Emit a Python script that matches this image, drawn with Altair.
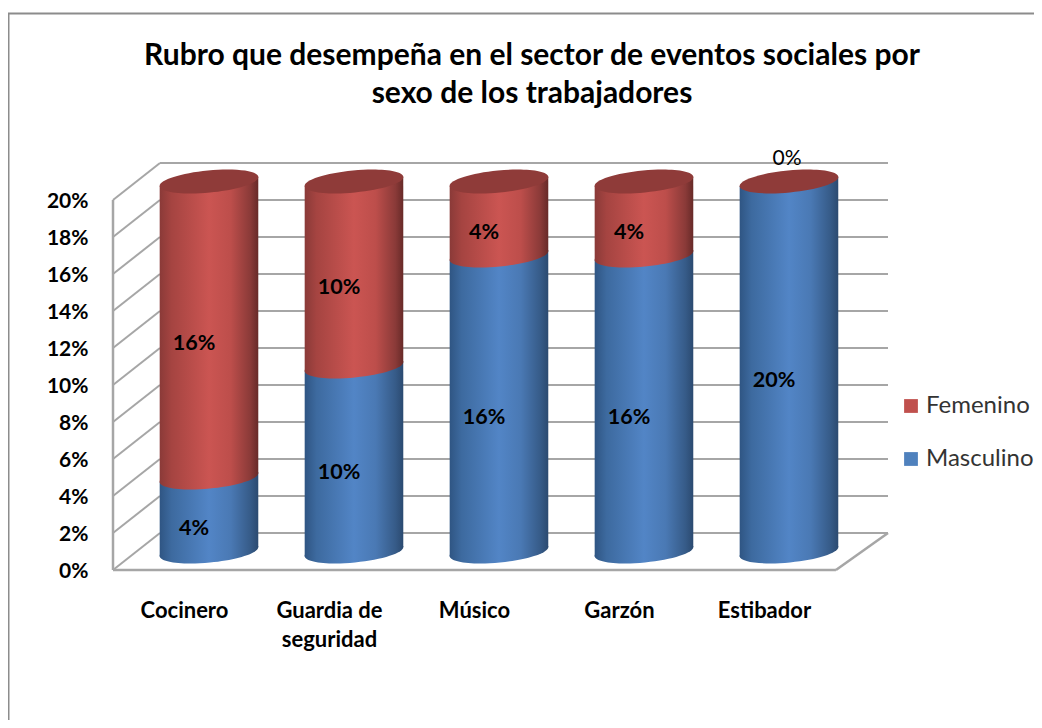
import math
import altair as alt
import pandas as pd

categories = ["Cocinero", "Guardia de\nseguridad", "Músico", "Garzón", "Estibador"]
masculino = [4, 10, 16, 16, 20]
femenino = [16, 10, 4, 4, 0]
ticks = [0, 2, 4, 6, 8, 10, 12, 14, 16, 18, 20]
series = ["Femenino", "Masculino"]
swatches = ["#c0504d", "#4f81bd"]

FONT = "Lato"
HALF = 0.34      # half bar width in category units
TILT = 0.25      # end-to-end tilt of the cylinder rims, in % units
LIFT = 1         # bars stand half-way into the floor depth
DEPTH = 2        # floor depth expressed in % units
X0, X1 = -0.662, 4.683
BACK_L, FRONT_R = -0.338, 4.324


def ellipse_path(b=0.222, deg=-5.4):
    t = math.radians(deg)
    k = 0.5523
    def p(x, y):
        return f"{x*math.cos(t)-y*math.sin(t):.4f},{x*math.sin(t)+y*math.cos(t):.4f}"
    return (f"M{p(-1,0)} C{p(-1,-k*b)} {p(-k,-b)} {p(0,-b)} "
            f"C{p(k,-b)} {p(1,-k*b)} {p(1,0)} "
            f"C{p(1,k*b)} {p(k,b)} {p(0,b)} "
            f"C{p(-k,b)} {p(-1,k*b)} {p(-1,0)} Z")


SHAPE = ellipse_path()
SIZE = (2 * 49.6) ** 2


def gradient(stops):
    return alt.Gradient(
        gradient="linear", x1=0, x2=1, y1=0, y2=0,
        stops=[alt.GradientStop(offset=o, color=c) for o, c in stops],
    )


BLUE = gradient([(0, "#2f5583"), (0.12, "#3d6a9f"), (0.5, "#5285c6"), (0.72, "#4a79b4"), (0.92, "#365b88"), (1, "#2b4a70")])
RED = gradient([(0, "#8a3a38"), (0.12, "#a54441"), (0.5, "#cb5552"), (0.72, "#bd4e4b"), (0.92, "#8a3a38"), (1, "#672a28")])

rows = []
for i in range(len(categories)):
    rows.append(dict(i=i, m=masculino[i], f=femenino[i], total=masculino[i] + femenino[i]))
bars = pd.DataFrame(rows)


def body(lo, hi):
    out = []
    for i in range(len(categories)):
        if hi[i] <= lo[i]:
            continue
        for side in (-1, 1):
            out.append(dict(i=i, x=i + side * HALF,
                            y0=lo[i] + LIFT + side * TILT,
                            y1=hi[i] + LIFT + side * TILT))
    return pd.DataFrame(out)


label_expr = "[" + ",".join(
    "[" + ",".join(f"'{p}'" for p in c.split("\n")) + "]" for c in categories
) + "][datum.value]"

XAX = alt.Axis(
    values=list(range(5)), domain=False, ticks=False, grid=False, title=None,
    labelExpr=label_expr, labelFont=FONT, labelFontSize=22, labelFontWeight="bold",
    labelColor="#000000", labelPadding=30, labelOffset=-25, labelLineHeight=29,
    labelBaseline="top", labelFlush=False, labelOverlap=False, labelAngle=0, labelAlign="center")
YAX = alt.Axis(
    values=ticks, domain=False, ticks=False, grid=False, title=None,
    labelExpr="datum.value + '%'", labelFont=FONT, labelFontSize=21, labelFontWeight="bold",
    labelColor="#000000", labelPadding=25, labelOffset=1.5, labelOverlap=False, labelFlush=False)

xs = alt.Scale(domain=[X0, X1], nice=False, zero=False)
ys = alt.Scale(domain=[0, 22], nice=False, zero=False)


def PX(field):
    return alt.X(field, scale=xs, axis=XAX)


def PY(field):
    return alt.Y(field, scale=ys, axis=YAX)


GRID = "#a6a6a6"
grid_df = pd.DataFrame({"t": ticks})
grid_df["b"] = grid_df.t + DEPTH
back = alt.Chart(grid_df).transform_calculate(xa=str(BACK_L), xb=str(X1)).mark_rule(
    color=GRID, strokeWidth=2).encode(x=PX("xa:Q"), x2="xb:Q", y=PY("b:Q"))
wall = alt.Chart(grid_df).transform_calculate(xa=str(X0), xb=str(BACK_L)).mark_rule(
    color=GRID, strokeWidth=2).encode(x=PX("xa:Q"), x2="xb:Q", y=PY("t:Q"), y2="b:Q")
edges = alt.Chart(pd.DataFrame({
    "x": [X0, X0, FRONT_R], "x2": [X0, FRONT_R, X1],
    "y": [0, 0, 0], "y2": [20, 0, DEPTH]})).mark_rule(color=GRID, strokeWidth=2.5).encode(
    x=PX("x:Q"), x2="x2:Q", y=PY("y:Q"), y2="y2:Q")


def rim(column, fill):
    return alt.Chart(bars).transform_calculate(yy=f"datum.{column} + {LIFT}").mark_point(
        shape=SHAPE, size=SIZE, filled=True, fill=fill, opacity=1, strokeWidth=0).encode(
        x=PX("i:Q"), y=PY("yy:Q"))


def side(df, fill):
    return alt.Chart(df).mark_area(fill=fill, opacity=1, interpolate="linear").encode(
        x=PX("x:Q"), y=PY("y0:Q"), y2="y1:Q", detail="i:N")


zero_base = bars.assign(b=0)
blue_bottom = alt.Chart(zero_base).transform_calculate(yy=f"datum.b + {LIFT}").mark_point(
    shape=SHAPE, size=SIZE, filled=True, fill=BLUE, opacity=1, strokeWidth=0).encode(
    x=PX("i:Q"), y=PY("yy:Q"))
blue_body = side(body([0] * 5, masculino), BLUE)
red_bottom = rim("m", RED).transform_filter("datum.f > 0")
red_body = side(body(masculino, [m + f for m, f in zip(masculino, femenino)]), RED)
top = rim("total", "#8f3b39")

# legend carrier, hidden behind the cylinders
legend_df = pd.DataFrame({"serie": series, "x": [0, 0], "y": [5, 5]})
legend_layer = alt.Chart(legend_df).mark_point(filled=True, size=4, shape="square", opacity=1).encode(
    x=PX("x:Q"), y=PY("y:Q"),
    color=alt.Color("serie:N", scale=alt.Scale(domain=series, range=swatches), title=None,
                    legend=alt.Legend(orient="none", legendX=786, legendY=231, symbolType="square",
                                      symbolSize=190, symbolStrokeWidth=1, labelFont=FONT,
                                      labelFontSize=24, labelColor="#333333", rowPadding=29,
                                      labelOffset=3, title=None, padding=0)))

lab = []
for i in range(5):
    base = 0
    for v in (masculino[i], femenino[i]):
        if v > 0:
            lab.append(dict(i=i, y=base + v / 2 + LIFT, t=f"{v}%"))
        base += v
lab_df = pd.DataFrame(lab)
labels = alt.Chart(lab_df).mark_text(font=FONT, fontSize=21.5, fontWeight="bold", color="#000000",
                                     dx=-15, dy=14).encode(
    x=PX("i:Q"), y=PY("y:Q"), text="t:N")
zero_lab = []
for i in range(5):
    if femenino[i] == 0:
        zero_lab.append(dict(i=i, y=masculino[i] + LIFT, t="0%"))
zero_text = alt.Chart(pd.DataFrame(zero_lab)).mark_text(font=FONT, fontSize=21, color="#000000",
                                                        dx=-2, dy=-23).encode(
    x=PX("i:Q"), y=PY("y:Q"), text="t:N")

FRAME = "#8c8c8c"
frame_l = alt.Chart(pd.DataFrame({"a": [0]})).mark_rule(color=FRAME, strokeWidth=2).encode(
    x=alt.value(-104.5), y=alt.value(-150), y2=alt.value(557))
frame_t = alt.Chart(pd.DataFrame({"a": [0]})).mark_rule(color=FRAME, strokeWidth=2).encode(
    x=alt.value(-105), x2=alt.value(921), y=alt.value(-149.5))

chart = alt.layer(
    frame_l, frame_t, back, wall, edges, legend_layer,
    blue_bottom, blue_body, red_bottom, red_body, top, labels, zero_text,
).resolve_scale(x="shared", y="shared").properties(
    width=775, height=407,
    padding={"left": 105, "top": 155, "right": 146, "bottom": 150},
    autosize=alt.AutoSizeParams(type="none"),
    title=alt.TitleParams(
        text=["Rubro que desempeña en el sector de eventos sociales  por", "sexo de los trabajadores"],
        font=FONT, fontSize=30, fontWeight="bold", color="#000000", lineHeight=38,
        anchor="start", align="center", dx=525, offset=0, dy=127, baseline="bottom"),
).configure_view(stroke=None)

chart.save("out.html", embed_options={"renderer": "svg", "actions": False})
